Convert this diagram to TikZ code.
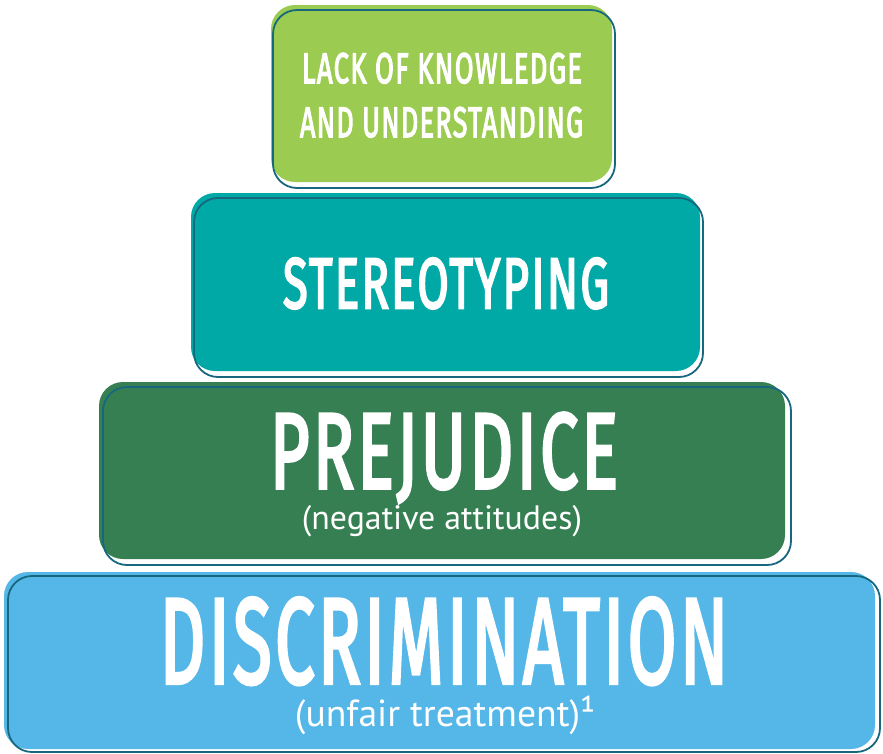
\documentclass[tikz,border=0pt]{standalone}
\usepackage{graphicx}
\usepackage{fontspec}
\newfontfamily\headfont[LetterSpace=5, FakeBold=3.5]{Fira Sans}
\newfontfamily\notefont{PT Sans}

\definecolor{limegreen}{HTML}{9BCB50}
\definecolor{tealfill}{HTML}{00A9A6}
\definecolor{forestfill}{HTML}{357F52}
\definecolor{skyfill}{HTML}{55B7E8}
\definecolor{rimblue}{HTML}{17687F}

% title squeezed to a given width and cap height
\newcommand{\tiertitle}[3]{\raisebox{0pt}[\height][0pt]{\resizebox{#1pt}{#2pt}{\headfont #3}}}
% small note under a title
\newcommand{\tiernote}[2]{\resizebox{#1pt}{!}{\notefont #2}}

\tikzset{
  tier/.style={rounded corners=24pt},
  rim/.style={draw=rimblue, line width=1.8pt, rounded corners=24pt},
  label/.style={text=white, inner sep=0pt, anchor=base}
}

\begin{document}
\begin{tikzpicture}[x=1pt, y=-1pt]
    \useasboundingbox (0,0) rectangle (883,753);

    % top tier
    \fill[tier, limegreen] (271,5) rectangle (612,182);
    \draw[rim] (273,10) rectangle (615,188);
    \node[label] (lack) at (442,83) {\tiertitle{280}{30}{LACK OF KNOWLEDGE}};
    \node[label] (under) at (441.5,137) {\tiertitle{283}{30}{AND UNDERSTANDING}};

    % second tier
    \fill[tier, tealfill] (191,193) rectangle (700,371);
    \draw[rim] (194,198) rectangle (703,377);
    \node[label] (stereo) at (446,308) {\tiertitle{326}{50}{STEREOTYPING}};

    % third tier
    \fill[tier, forestfill] (99,382) rectangle (785,559);
    \draw[rim] (103,387) rectangle (791,565);
    \node[label] (prej) at (444,488) {\tiertitle{348}{75}{PREJUDICE}};
    \node[label] (attitudes) at (442,529) {\tiernote{280}{(negative attitudes)}};

    % base tier
    \fill[tier, skyfill] (4,572) rectangle (875,749);
    \draw[rim] (8,576) rectangle (880,752);
    \node[label] (discr) at (444,683) {\tiertitle{568}{85}{DISCRIMINATION}};
    \node[label] (unfair) at (445,726) {\tiernote{300}{(unfair treatment)¹}};

\end{tikzpicture}
\end{document}
